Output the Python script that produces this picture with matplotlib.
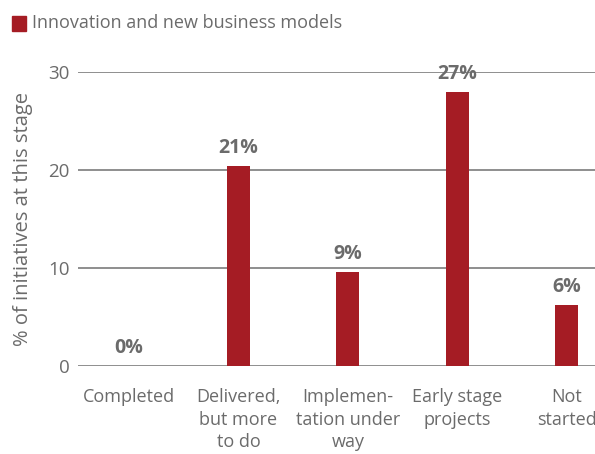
import matplotlib.pyplot as plt
from matplotlib.patches import Rectangle

# Data
stages = ["Completed", "Delivered,\nbut more\nto do", "Implemen-\ntation under\nway",
          "Early stage\nprojects", "Not\nstarted"]
values = [0, 20.4, 9.6, 28.0, 6.2]
labels = ["0%", "21%", "9%", "27%", "6%"]
series_name = "Innovation and new business models"

red = "#a51c24"
grey = "#6b6b6b"

plt.rcParams["font.family"] = ["Open Sans", "DejaVu Sans"]

fig = plt.figure(figsize=(5.95, 4.54), dpi=100)
ax = fig.add_axes([0.131, 0.194, 0.869, 0.647])

x = list(range(len(stages)))
ax.bar(x, values, width=0.21, color=red, zorder=3)

for xi, v, lab in zip(x, values, labels):
    ax.text(xi, v + 0.8, lab, ha="center", va="bottom", fontsize=14,
            fontweight="bold", color=grey, clip_on=False)

ax.set_ylim(0, 30)
ax.set_xlim(-0.466, 4.256)
ax.set_yticks([0, 10, 20, 30])
ax.yaxis.grid(True, color="#707070", linewidth=1.1, zorder=0)
ax.set_xticks(x)
ax.set_xticklabels(stages, fontsize=13, color=grey, linespacing=1.33)
ax.tick_params(axis="y", length=0, pad=6, labelsize=13.5, labelcolor=grey)
ax.tick_params(axis="x", length=0, pad=16)
for s in ax.spines.values():
    s.set_visible(False)

ax.set_ylabel("% of initiatives at this stage", fontsize=14.5, color=grey, labelpad=11)

# legend
fig.patches.append(Rectangle((12 / 595, 1 - 31 / 454), 14 / 595, 15 / 454,
                             transform=fig.transFigure, color=red, figure=fig))
fig.text(32 / 595, 1 - 23 / 454, series_name, fontsize=13, color=grey, va="center")

fig.savefig("out.png", dpi=100)
